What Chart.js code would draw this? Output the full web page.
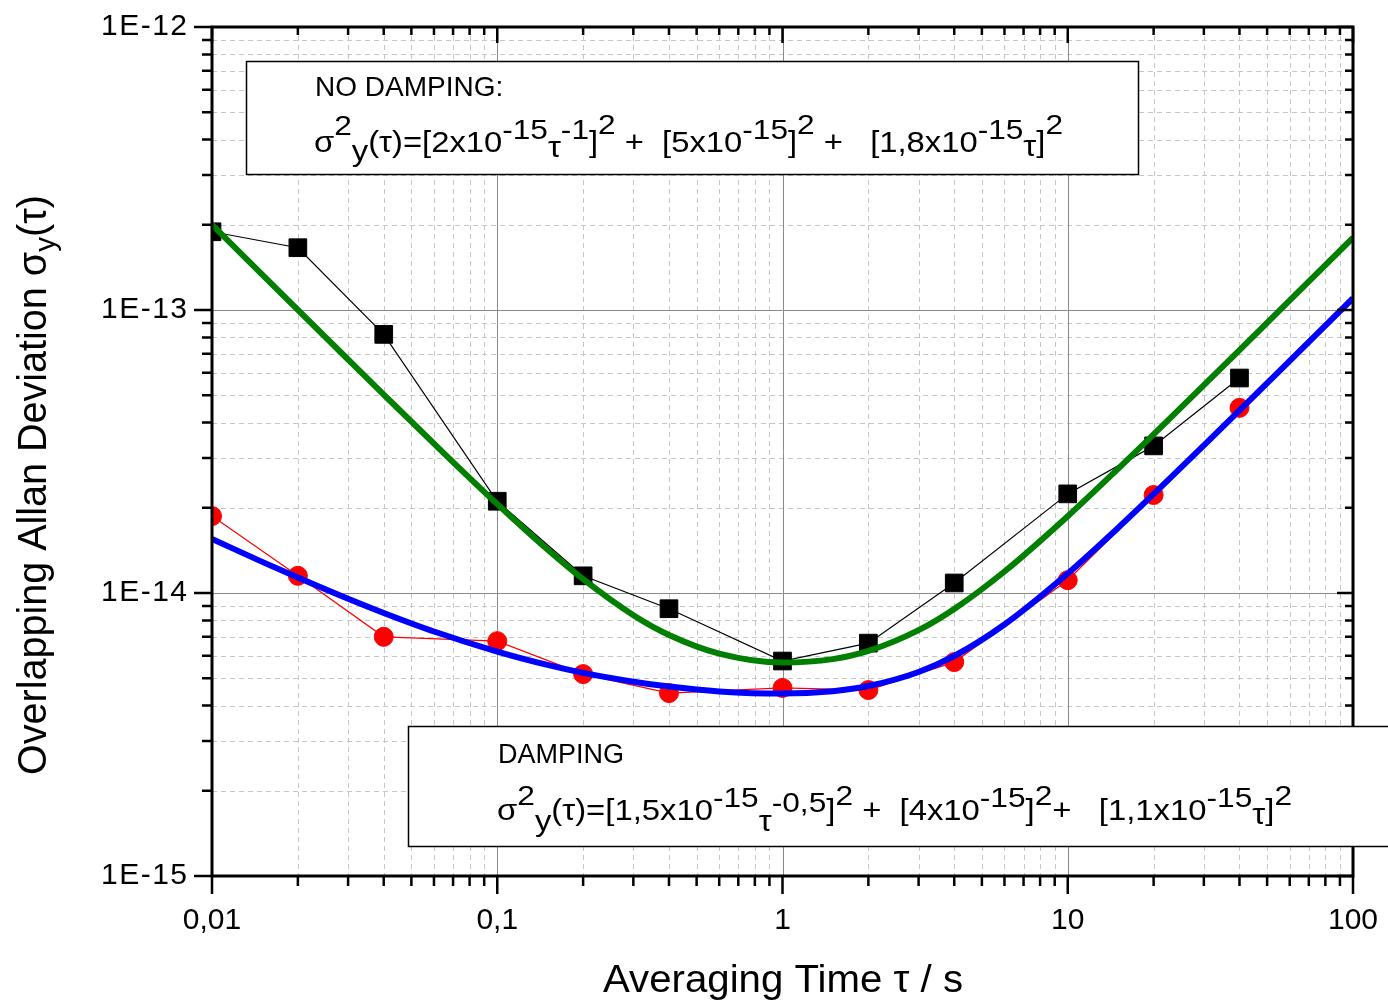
<!DOCTYPE html>
<html>
<head>
<meta charset="utf-8">
<title>Overlapping Allan Deviation</title>
<script src="https://cdn.jsdelivr.net/npm/chart.js@4/dist/chart.umd.min.js"></script>
<style>
  html, body { margin: 0; padding: 0; background: #ffffff; }
  #wrap { width: 1388px; height: 1002px; position: relative; }
  canvas { display: block; }
</style>
</head>
<body>
<div id="wrap"><canvas id="adev" width="1388" height="1002"></canvas></div>
<script>
// Averaging times of the measured points (s)
const tau = [0.01, 0.02, 0.04, 0.1, 0.2, 0.4, 1, 2, 4, 10, 20, 40];
// Measured overlapping Allan deviation without damping
const adevNoDamping = [1.89e-13, 1.66e-13, 8.2e-14, 2.11e-14, 1.15e-14, 8.8e-15,
                       5.75e-15, 6.65e-15, 1.085e-14, 2.24e-14, 3.31e-14, 5.75e-14];
// Measured overlapping Allan deviation with damping
const adevDamping = [1.87e-14, 1.15e-14, 7.0e-15, 6.76e-15, 5.17e-15, 4.43e-15,
                     4.62e-15, 4.54e-15, 5.70e-15, 1.11e-14, 2.22e-14, 4.51e-14];

// Noise-model curves sampled along tau
const fitTau = [0.01, 0.015, 0.02, 0.03, 0.04, 0.06, 0.1, 0.15, 0.2, 0.3, 0.4, 0.6,
                1, 1.5, 2, 3, 4, 6, 10, 15, 20, 30, 40, 60, 100];
const fitNoDamping = [2.001e-13, 1.334e-13, 1.001e-13, 6.685e-14, 5.025e-14, 3.371e-14,
                      2.062e-14, 1.424e-14, 1.119e-14, 8.35e-15, 7.11e-15, 6.11e-15,
                      5.68e-15, 5.84e-15, 6.24e-15, 7.39e-15, 8.78e-15, 1.191e-14,
                      1.868e-14, 2.746e-14, 3.635e-14, 5.423e-14, 7.217e-14, 1.081e-13, 1.801e-13];
const fitDamping = [1.552e-14, 1.288e-14, 1.134e-14, 9.54e-15, 8.50e-15, 7.31e-15,
                    6.21e-15, 5.57e-15, 5.22e-15, 4.86e-15, 4.67e-15, 4.49e-15,
                    4.41e-15, 4.50e-15, 4.69e-15, 5.26e-15, 5.99e-15, 7.74e-15,
                    1.172e-14, 1.698e-14, 2.236e-14, 3.324e-14, 4.418e-14, 6.612e-14, 1.101e-13];

// Axis tick labels
const xTickValues = [0.01, 0.1, 1, 10, 100];
const xTickLabels = ['0,01', '0,1', '1', '10', '100'];
const yTickValues = [1e-15, 1e-14, 1e-13, 1e-12];
const yTickLabels = ['1E-15', '1E-14', '1E-13', '1E-12'];

const xTitle = 'Averaging Time τ / s';
const FONT = '"Liberation Sans", Arial, Helvetica, sans-serif';

const toPoints = (xs, ys) => xs.map((x, i) => ({ x: x, y: ys[i] }));

// decade and sub-decade positions between two powers of ten
function logTicks(min, max) {
  const major = [], minor = [];
  for (let e = Math.round(Math.log10(min)); e <= Math.round(Math.log10(max)); e++) {
    const base = Math.pow(10, e);
    major.push(base);
    if (base < max * 0.999) {
      for (let m = 2; m <= 9; m++) minor.push(m * base);
    }
  }
  return { major, minor };
}

// draws a run of text pieces with raised / lowered parts, stretched to a given width
function drawRich(ctx, segs, x, y, width) {
  const widths = segs.map(s => { ctx.font = s.size + 'px ' + FONT; return ctx.measureText(s.t).width; });
  const total = widths.reduce((a, b) => a + b, 0);
  const k = width ? width / total : 1;
  ctx.save();
  ctx.translate(x, y);
  ctx.scale(k, 1);
  ctx.fillStyle = '#000';
  ctx.textBaseline = 'alphabetic';
  ctx.textAlign = 'left';
  let cx = 0;
  segs.forEach((s, i) => {
    ctx.font = s.size + 'px ' + FONT;
    ctx.fillText(s.t, cx, s.dy || 0);
    cx += widths[i];
  });
  ctx.restore();
}

const gridPlugin = {
  id: 'logGrid',
  beforeDatasetsDraw(chart) {
    const { ctx, chartArea: a, scales: { x, y } } = chart;
    const xt = logTicks(0.01, 100), yt = logTicks(1e-15, 1e-12);
    ctx.save();
    ctx.lineWidth = 1;
    // dashed minor grid
    ctx.strokeStyle = '#c6c6c6';
    ctx.setLineDash([5, 4]);
    ctx.beginPath();
    xt.minor.forEach(v => { const p = Math.round(x.getPixelForValue(v)) + 0.5; ctx.moveTo(p, a.top); ctx.lineTo(p, a.bottom); });
    yt.minor.forEach(v => { const p = Math.round(y.getPixelForValue(v)) + 0.5; ctx.moveTo(a.left, p); ctx.lineTo(a.right, p); });
    ctx.stroke();
    // solid major grid
    ctx.setLineDash([]);
    ctx.strokeStyle = '#8a8a8a';
    ctx.beginPath();
    xt.major.forEach(v => { const p = Math.round(x.getPixelForValue(v)) + 0.5; ctx.moveTo(p, a.top); ctx.lineTo(p, a.bottom); });
    yt.major.forEach(v => { const p = Math.round(y.getPixelForValue(v)) + 0.5; ctx.moveTo(a.left, p); ctx.lineTo(a.right, p); });
    ctx.stroke();
    ctx.restore();
  }
};

const framePlugin = {
  id: 'frameAndText',
  afterDatasetsDraw(chart) {
    const { ctx, chartArea: a, scales: { x, y } } = chart;
    const xt = logTicks(0.01, 100), yt = logTicks(1e-15, 1e-12);
    ctx.save();
    ctx.strokeStyle = '#000';
    ctx.lineCap = 'butt';

    // ticks
    ctx.lineWidth = 2.5;
    ctx.beginPath();
    const tick = (v, major, axis) => {
      const L = major ? 18 : 10;
      const Li = major ? 16 : 8;
      if (axis === 'x') {
        const p = x.getPixelForValue(v);
        ctx.moveTo(p, a.bottom); ctx.lineTo(p, a.bottom + L);   // bottom, outward
        ctx.moveTo(p, a.top); ctx.lineTo(p, a.top + Li);        // top, inward
      } else {
        const p = y.getPixelForValue(v);
        ctx.moveTo(a.left, p); ctx.lineTo(a.left - L, p);       // left, outward
        ctx.moveTo(a.right, p); ctx.lineTo(a.right - Li, p);    // right, inward
      }
    };
    xt.major.forEach(v => tick(v, true, 'x'));
    xt.minor.forEach(v => tick(v, false, 'x'));
    yt.major.forEach(v => tick(v, true, 'y'));
    yt.minor.forEach(v => tick(v, false, 'y'));
    ctx.stroke();

    // frame
    ctx.lineWidth = 3;
    ctx.strokeRect(a.left, a.top, a.right - a.left, a.bottom - a.top);

    // tick labels
    ctx.fillStyle = '#000';
    ctx.textBaseline = 'alphabetic';
    ctx.font = '30px ' + FONT;
    ctx.textAlign = 'center';
    xTickValues.forEach((v, i) => {
      ctx.fillText(xTickLabels[i], x.getPixelForValue(v), 929);
    });
    ctx.font = '30px ' + FONT;
    ctx.textAlign = 'left';
    const sp = 1.5;
    if ('letterSpacing' in ctx) ctx.letterSpacing = sp + 'px';
    yTickValues.forEach((v, i) => {
      const w = ctx.measureText(yTickLabels[i]).width - (('letterSpacing' in ctx) ? sp : 0);
      ctx.fillText(yTickLabels[i], 187 - w, y.getPixelForValue(v) + 8);
    });
    if ('letterSpacing' in ctx) ctx.letterSpacing = '0px';

    // axis titles
    drawRich(ctx, [{ t: xTitle, size: 38 }], 603, 992, 360);

    ctx.save();
    ctx.translate(46, 775);
    ctx.rotate(-Math.PI / 2);
    drawRich(ctx, [
      { t: 'Overlapping Allan Deviation σ', size: 40 },
      { t: 'y', size: 30, dy: 9 },
      { t: '(τ)', size: 40 }
    ], 0, 0, 580);
    ctx.restore();

    // model boxes
    ctx.lineWidth = 1.5;
    ctx.fillStyle = '#fff';
    ctx.fillRect(246, 61, 892, 113);
    ctx.strokeRect(246.5, 61.5, 892, 113);
    ctx.fillRect(408, 726, 990, 120);
    ctx.strokeRect(408.5, 726.5, 990, 120);

    ctx.fillStyle = '#000';
    ctx.font = '28px ' + FONT;
    ctx.textAlign = 'left';
    ctx.fillText('NO DAMPING:', 315, 96);
    drawRich(ctx, [
      { t: 'σ', size: 29 }, { t: '2', size: 28, dy: -17 }, { t: 'y', size: 29, dy: 9 },
      { t: '(τ)=[2x10', size: 29 }, { t: '-15', size: 28, dy: -13 }, { t: 'τ', size: 29, dy: 5 },
      { t: '-1', size: 28, dy: -13 }, { t: ']', size: 29 }, { t: '2', size: 28, dy: -18 },
      { t: ' +  [5x10', size: 29 }, { t: '-15', size: 28, dy: -13 }, { t: ']', size: 29 },
      { t: '2', size: 28, dy: -18 }, { t: ' +   [1,8x10', size: 29 }, { t: '-15', size: 28, dy: -13 },
      { t: 'τ', size: 29, dy: 4 }, { t: ']', size: 29 }, { t: '2', size: 28, dy: -18 }
    ], 314, 152, 749);

    ctx.font = '27px ' + FONT;
    ctx.fillText('DAMPING', 498, 763);
    drawRich(ctx, [
      { t: 'σ', size: 29 }, { t: '2', size: 28, dy: -15 }, { t: 'y', size: 29, dy: 11 },
      { t: '(τ)=[1,5x10', size: 29 }, { t: '-15', size: 28, dy: -13 }, { t: 'τ', size: 29, dy: 11 },
      { t: '-0,5', size: 28, dy: -8 }, { t: ']', size: 29 }, { t: '2', size: 28, dy: -15 },
      { t: ' +  [4x10', size: 29 }, { t: '-15', size: 28, dy: -13 }, { t: ']', size: 29 },
      { t: '2', size: 28, dy: -15 }, { t: '+   [1,1x10', size: 29 }, { t: '-15', size: 28, dy: -13 },
      { t: 'τ', size: 29, dy: 4 }, { t: ']', size: 29 }, { t: '2', size: 28, dy: -15 }
    ], 497, 820, 795);

    ctx.restore();
  }
};

new Chart(document.getElementById('adev'), {
  type: 'line',
  data: {
    datasets: [
      {
        label: 'Fit, damping',
        data: toPoints(fitTau, fitDamping),
        borderColor: '#0000ff',
        borderWidth: 6,
        pointRadius: 0,
        cubicInterpolationMode: 'monotone',
        order: 0
      },
      {
        label: 'Fit, no damping',
        data: toPoints(fitTau, fitNoDamping),
        borderColor: '#007f00',
        borderWidth: 6,
        pointRadius: 0,
        cubicInterpolationMode: 'monotone',
        order: 1
      },
      {
        label: 'No damping',
        data: toPoints(tau, adevNoDamping),
        borderColor: '#000000',
        backgroundColor: '#000000',
        borderWidth: 1.2,
        pointStyle: 'rect',
        pointRadius: 12.5,
        pointBorderWidth: 1,
        pointBorderColor: '#000000',
        pointBackgroundColor: '#000000',
        tension: 0,
        order: 2
      },
      {
        label: 'Damping',
        data: toPoints(tau, adevDamping),
        borderColor: '#ff0000',
        backgroundColor: '#ff0000',
        borderWidth: 1.2,
        pointStyle: 'circle',
        pointRadius: 9.5,
        pointBorderWidth: 1,
        pointBorderColor: '#ff0000',
        pointBackgroundColor: '#ff0000',
        tension: 0,
        order: 3
      }
    ]
  },
  options: {
    responsive: false,
    animation: false,
    layout: { padding: { left: 212, right: 35, top: 27, bottom: 126 } },
    plugins: { legend: { display: false }, tooltip: { enabled: false } },
    scales: {
      x: { type: 'logarithmic', min: 0.01, max: 100, display: false },
      y: { type: 'logarithmic', min: 1e-15, max: 1e-12, display: false }
    }
  },
  plugins: [gridPlugin, framePlugin]
});
</script>
</body>
</html>
